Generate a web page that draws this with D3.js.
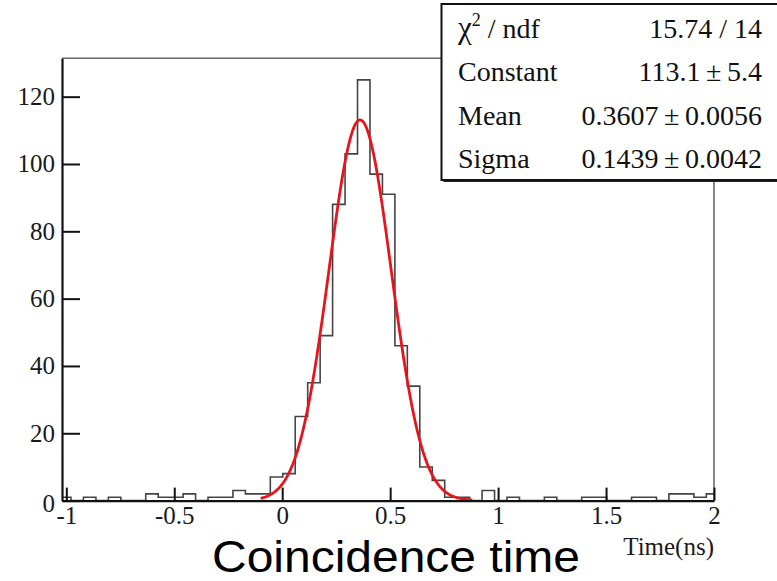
<!DOCTYPE html>
<html>
<head>
<meta charset="utf-8">
<script src="https://cdn.jsdelivr.net/npm/d3@7"></script>
<style>
  html, body { margin: 0; padding: 0; background: #fff; }
  svg { display: block; }
  .axis text { font-family: "Liberation Serif", "Times New Roman", serif; font-size: 25px; fill: #1a1a1a; }
  .stats text { font-family: "Liberation Serif", "Times New Roman", serif; font-size: 28px; fill: #111; }
</style>
</head>
<body>
<svg id="chart" width="777" height="581"></svg>
<script>
'use strict';

// histogram: 53 bins, first low edge and width in ns
var binStart = -1.036;
var binWidth = 0.0577;
var binCounts = [
  1, 0, 1, 0, 1, 0, 0, 2, 1, 1, 2, 0, 1, 1, 3, 2, 2, 7,
  8, 25, 35, 49, 88, 103, 125, 97, 91, 46, 34, 10, 6, 1, 1, 0,
  3, 0, 1, 0, 0, 1, 0, 0, 1, 1, 0, 0, 1, 1, 0, 2, 2, 1, 2
];

// gaussian fit as shown in the stats box
var fitConstant = 113.1;
var fitMean = 0.3607;
var fitSigma = 0.1439;
var fitRange = [-0.1, 0.88];

var statLabels = ['ndf', 'Constant', 'Mean', 'Sigma'];
var statValues = ['15.74 / 14', '113.1\u2009\u00b1\u20095.4', '0.3607\u2009\u00b1\u20090.0056', '0.1439\u2009\u00b1\u20090.0042'];

var xMajorTicks = [-1, -0.5, 0, 0.5, 1, 1.5, 2];
var yMajorTicks = [0, 20, 40, 60, 80, 100, 120];

var svg = d3.select('#chart');

var frame = { left: 62, right: 714, top: 58.3, bottom: 500.6 };

var x = d3.scaleLinear().domain([-1.02, 2]).range([frame.left, frame.right]);
var y = d3.scaleLinear().domain([0, 131.4]).range([frame.bottom, frame.top]);

svg.append('rect').attr('width', 777).attr('height', 581).attr('fill', '#fff');

svg.append('defs').append('clipPath').attr('id', 'frameClip')
  .append('rect')
  .attr('x', frame.left).attr('y', frame.top - 2)
  .attr('width', frame.right - frame.left).attr('height', frame.bottom - frame.top + 2);

// frame top + right (axes draw the other two)
svg.append('path')
  .attr('d', 'M' + frame.left + ',' + frame.top + 'H' + frame.right + 'V' + frame.bottom)
  .attr('fill', 'none')
  .attr('stroke', '#6a6a6a')
  .attr('stroke-width', 1.6);

// histogram outline
var bins = binCounts.map(function (c, i) {
  var lo = binStart + i * binWidth;
  return { lo: lo, hi: lo + binWidth, count: c };
});

var histPath = 'M' + x(bins[0].lo) + ',' + y(0);
bins.forEach(function (b) {
  histPath += 'L' + x(b.lo) + ',' + y(b.count) + 'L' + x(b.hi) + ',' + y(b.count);
});
histPath += 'L' + x(bins[bins.length - 1].hi) + ',' + y(0);

svg.append('path')
  .attr('clip-path', 'url(#frameClip)')
  .attr('d', histPath)
  .attr('fill', 'none')
  .attr('stroke', '#444')
  .attr('stroke-width', 1.6);

// fit curve, evaluated from the fit parameters
var fitX = d3.range(fitRange[0], fitRange[1] + 1e-9, 0.004);
var gauss = function (t) {
  var z = (t - fitMean) / fitSigma;
  return fitConstant * Math.exp(-0.5 * z * z);
};

svg.append('path')
  .datum(fitX)
  .attr('clip-path', 'url(#frameClip)')
  .attr('d', d3.line().x(function (t) { return x(t); }).y(function (t) { return y(gauss(t)); }))
  .attr('fill', 'none')
  .attr('stroke', '#e8141c')
  .attr('stroke-width', 2.8);

// x axis
var xMinor = d3.range(-10, 21).map(function (k) { return k / 10; })
  .filter(function (v) { return xMajorTicks.indexOf(v) < 0; });

var xAxisG = svg.append('g').attr('class', 'axis')
  .attr('transform', 'translate(0,' + frame.bottom + ')');

xAxisG.call(d3.axisBottom(x).tickValues(xMinor).tickSize(-6.5).tickSizeOuter(0).tickFormat(''));
xAxisG.call(d3.axisBottom(x).tickValues(xMajorTicks).tickSize(-13).tickSizeOuter(0).tickPadding(6)
  .tickFormat(function (d) { return String(d); }));

// y axis
var yMinor = d3.range(5, 131, 5).filter(function (v) { return v % 20 !== 0; });

var yAxisG = svg.append('g').attr('class', 'axis')
  .attr('transform', 'translate(' + frame.left + ',0)');

yAxisG.call(d3.axisLeft(y).tickValues(yMinor).tickSize(-9).tickSizeOuter(0).tickFormat(''));
yAxisG.call(d3.axisLeft(y).tickValues(yMajorTicks).tickSize(-18).tickSizeOuter(0).tickPadding(7)
  .tickFormat(function (d) { return String(d); }));

svg.selectAll('.axis .tick line').attr('stroke', '#111').attr('stroke-width', 2);
svg.selectAll('.axis .domain').attr('stroke', '#111').attr('stroke-width', 2.2);
// ROOT pushes the zero label down a little
yAxisG.selectAll('.tick text').filter(function (d) { return d === 0; }).attr('dy', '0.45em');

svg.append('text')
  .attr('x', frame.right)
  .attr('y', 555)
  .attr('text-anchor', 'end')
  .style('font-family', '"Liberation Serif", "Times New Roman", serif')
  .style('font-size', '25px')
  .attr('fill', '#1a1a1a')
  .text('Time(ns)');

svg.append('text')
  .attr('x', 212)
  .attr('y', 571.5)
  .attr('textLength', 368)
  .attr('lengthAdjust', 'spacingAndGlyphs')
  .style('font-family', '"Liberation Sans", Arial, sans-serif')
  .style('font-size', '44px')
  .attr('fill', '#000')
  .text('Coincidence time');

// stats box
var stats = svg.append('g').attr('class', 'stats');
var box = { x: 441.5, y: 4, w: 345, h: 176 };

stats.append('rect')
  .attr('x', box.x + 2).attr('y', box.y + 2)
  .attr('width', box.w).attr('height', box.h)
  .attr('fill', '#222');
stats.append('rect')
  .attr('x', box.x).attr('y', box.y)
  .attr('width', box.w).attr('height', box.h)
  .attr('fill', '#fff')
  .attr('stroke', '#111')
  .attr('stroke-width', 2);

var rowY = function (i) { return 37.5 + i * 43.5; };

statLabels.forEach(function (label, i) {
  var t = stats.append('text').attr('x', 458).attr('y', rowY(i));
  if (i === 0) {
    t.append('tspan').style('font-size', '31px').text('\u03c7');
    t.append('tspan').attr('dy', -12).style('font-size', '18px').text('2');
    t.append('tspan').attr('dy', 12).text(' / ' + label);
  } else {
    t.text(label);
  }
});

statValues.forEach(function (v, i) {
  stats.append('text')
    .attr('x', 762)
    .attr('y', rowY(i))
    .attr('text-anchor', 'end')
    .text(v);
});
</script>
</body>
</html>
